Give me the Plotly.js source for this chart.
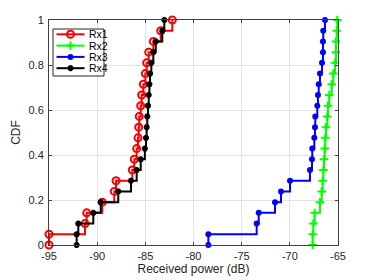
<!DOCTYPE html>
<html><head><meta charset="utf-8">
<script src="https://cdn.plot.ly/plotly-3.0.1.min.js"></script>
<style>html,body{margin:0;padding:0;background:#fff}#chart{width:374px;height:280px}</style>
</head><body><div id="chart"></div>
<script>
// Empirical CDF points (received power in dB), 22 steps each (0 .. 1 in 1/21 steps)
const cdfLevels = [0,1,2,3,4,5,6,7,8,9,10,11,12,13,14,15,16,17,18,19,20,21].map(i => i/21);
const rx1 = [-95.0,-95.0,-91.26,-91.09,-89.47,-88.22,-88.04,-86.35,-86.15,-85.90,-85.76,-85.69,-85.63,-85.48,-85.38,-85.21,-85.0,-84.86,-84.65,-84.17,-83.40,-82.20];
const rx2 = [-67.63,-67.63,-67.56,-67.42,-66.87,-66.69,-66.59,-66.52,-66.45,-66.38,-66.32,-66.24,-66.11,-66.04,-65.90,-65.65,-65.49,-65.31,-65.21,-65.21,-65.13,-65.07];
const rx3 = [-78.46,-78.46,-73.44,-73.23,-71.54,-70.92,-69.98,-67.91,-67.70,-67.67,-67.46,-67.39,-67.36,-67.15,-67.08,-67.0,-66.87,-66.66,-66.56,-66.56,-66.53,-66.35];
const rx4 = [-92.13,-92.13,-91.96,-90.40,-89.63,-87.81,-86.49,-85.90,-85.48,-85.05,-84.93,-84.86,-84.80,-84.72,-84.65,-84.58,-84.51,-84.38,-84.17,-83.92,-83.24,-83.03];
const names = ['Rx1','Rx2','Rx3','Rx4'];
const xTicks = [-95,-90,-85,-80,-75,-70,-65];
const yTicks = [0,0.2,0.4,0.6,0.8,1];
const yTickText = ['0','0.2','0.4','0.6','0.8','1'];

const ff = 'Liberation Sans, Arial, sans-serif';
const font = {family:ff, size:11, color:'#262626'};
const colors = ['#ff0000','#00ff00','#0000ff','#000000'];
const markers = [
  {symbol:'circle-open', size:7, line:{width:2, color:colors[0]}},
  {symbol:'cross-thin-open', size:6, line:{width:2, color:colors[1]}},
  {symbol:'circle', size:6},
  {symbol:'asterisk-open', size:5, line:{width:2, color:colors[3]}}
];
const series = [rx1, rx2, rx3, rx4];
const xRange = [-95, -65], yRange = [0, 1];

const data = series.map((x, i) => ({
  x:x, y:cdfLevels, name:names[i], type:'scatter', mode:'lines+markers', xaxis:'x', yaxis:'y',
  line:{shape:'hv', color:colors[i], width:2}, marker:Object.assign({color:colors[i]}, markers[i]),
  cliponaxis:false, showlegend:false
}));

const W = 374, H = 280, mL = 49, mR = 36, mT = 20, mB = 35;
const pw = W - mL - mR, ph = H - mT - mB;
const px2x = p => xRange[0] + (p - mL) * (xRange[1] - xRange[0]) / pw;
const py2y = p => yRange[0] + (H - mB - p) * (yRange[1] - yRange[0]) / ph;

// Hand-drawn legend (MATLAB-style compact box) on a helper axis pair in pixel-like units
const legX0 = 53, legX1 = 104, legY0 = 29, legY1 = 76;
const sampleA = 56.5, sampleB = 84.5, textX = 87;
const rowY = names.map((n, i) => 34.3 + i * 11.3);
names.forEach((n, i) => {
  const mk = Object.assign({color:colors[i]}, markers[i]);
  mk.opacity = [0, 1, 0];
  data.push({x:[sampleA, (sampleA+sampleB)/2, sampleB], y:[rowY[i], rowY[i], rowY[i]], xaxis:'x2', yaxis:'y2',
    type:'scatter', mode:'lines+markers', line:{color:colors[i], width:2}, marker:mk, showlegend:false, hoverinfo:'skip'});
});

const axisCommon = {showline:true, linecolor:'#404040', linewidth:1, mirror:'ticks', ticks:'inside', ticklen:3,
  tickcolor:'#404040', showgrid:true, gridcolor:'#e3e3e3', gridwidth:1, zeroline:false, tickfont:font};
const layout = {
  width:W, height:H, margin:{l:mL, r:mR, t:mT, b:mB},
  paper_bgcolor:'#fff', plot_bgcolor:'rgba(0,0,0,0)', font:font, showlegend:false,
  xaxis:Object.assign({}, axisCommon, {range:xRange, tickvals:xTicks, ticktext:xTicks.map(String), ticklabelstandoff:1,
    title:{text:'Received power (dB)', font:{family:ff, size:12, color:'#262626'}, standoff:3}}),
  yaxis:Object.assign({}, axisCommon, {range:yRange, tickvals:yTicks, ticktext:yTickText, ticklabelstandoff:2,
    title:{text:'CDF', font:{family:ff, size:12, color:'#262626'}, standoff:5}}),
  xaxis2:{domain:[(legX0-mL)/pw, (legX1-mL)/pw], range:[legX0, legX1], anchor:'y2', visible:false, fixedrange:true},
  yaxis2:{domain:[1-(legY1-mT)/ph, 1-(legY0-mT)/ph], range:[legY1, legY0], anchor:'x2', visible:false, fixedrange:true},
  shapes:[{type:'rect', xref:'x', yref:'y', x0:px2x(legX0), x1:px2x(legX1), y0:py2y(legY1), y1:py2y(legY0), layer:'between',
    fillcolor:'#ffffff', line:{color:'#262626', width:1}}],
  annotations:names.map((n, i) => ({xref:'x2', yref:'y2', x:textX, y:rowY[i], text:n, showarrow:false,
    xanchor:'left', yanchor:'middle', font:{family:ff, size:10.5, color:'#000'}}))
};
Plotly.newPlot('chart', data, layout, {staticPlot:true, displayModeBar:false});
</script></body></html>
